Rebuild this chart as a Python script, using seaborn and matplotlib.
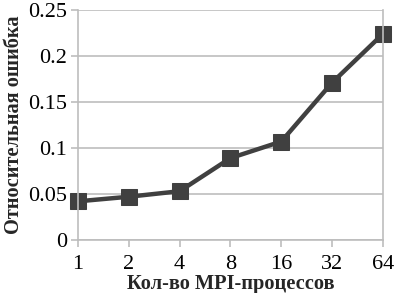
import matplotlib
matplotlib.use("Agg")
import matplotlib.pyplot as plt
import seaborn as sns
import pandas as pd

# data
processes = ["1", "2", "4", "8", "16", "32", "64"]
rel_error = [0.042, 0.047, 0.053, 0.089, 0.107, 0.171, 0.224]

sns.set_theme(style="white")
plt.rcParams['font.family'] = ['Liberation Serif', 'DejaVu Serif']

df = pd.DataFrame({'proc': processes, 'err': rel_error})

fig = plt.figure(figsize=(3.96, 2.93), dpi=100)
ax = fig.add_axes([0.197, 0.181, 0.77, 0.785])

grid_c = '#bdbdbd'
ax.yaxis.grid(True, color=grid_c, linewidth=1.2)
ax.set_axisbelow(True)

sns.lineplot(data=df, x='proc', y='err', ax=ax, color='#404040', linewidth=3.2,
             marker='s', markersize=11, markeredgecolor='#404040',
             markerfacecolor='#404040', sort=False, clip_on=False)

ax.set_xlim(0, len(processes) - 1)
ax.set_ylim(0, 0.25)
ax.set_yticks([0, 0.05, 0.1, 0.15, 0.2, 0.25])
ax.set_yticklabels(["0", "0.05", "0.1", "0.15", "0.2", "0.25"])

for side in ['left', 'bottom', 'right']:
    ax.spines[side].set_color(grid_c)
    ax.spines[side].set_linewidth(1.2)
ax.spines['top'].set_visible(False)

ax.tick_params(axis='both', which='both', labelsize=16, colors=grid_c,
               labelcolor='black', length=5, width=1.2, direction='out', pad=3)
ax.tick_params(axis='x', bottom=True, pad=6)
ax.tick_params(axis='y', left=True)

ax.set_xlabel('Кол-во MPI-процессов', fontsize=14.7, fontweight='bold', labelpad=0)
ax.set_ylabel('Относительная ошибка', fontsize=14.7, fontweight='bold', labelpad=3)

fig.savefig('out.png', dpi=100)
